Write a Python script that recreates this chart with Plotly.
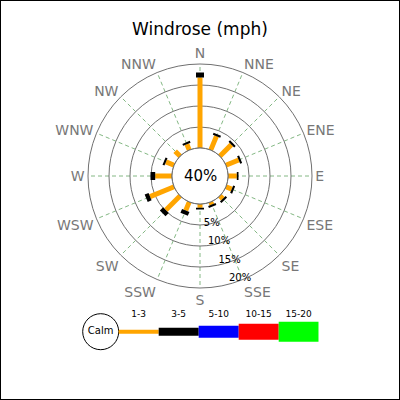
import plotly.graph_objects as go

# --- data ---
directions = ['N', 'NNE', 'NE', 'ENE', 'E', 'ESE', 'SE', 'SSE',
              'S', 'SSW', 'SW', 'WSW', 'W', 'WNW', 'NW', 'NNW']
angles = [i * 22.5 for i in range(16)]
calm_pct = 40

speed_bins = ['1-3', '3-5', '5-10', '10-15', '15-20']
bin_colors = ['orange', 'black', 'blue', 'red', 'lime']
bin_widths = [4, 8, 12, 16, 20]

pct_1_3 = [16.8, 3.6, 3.9, 3.3, 2.1, 1.5, 1.0, 0.7, 0.9, 2.2, 4.8, 6.2, 4.0, 2.1, 1.7, 1.5]
pct_3_5 = [1.2, 0.5, 0.5, 0.5, 0.4, 0.5, 0.5, 0.5, 0.4, 1.0, 1.1, 1.0, 1.1, 0.5, 0.0, 0.5]

radial_ticks = [0, 5, 10, 15, 20]
radial_labels = ['', '5%', '10%', '15%', '20%']

FONT = 'DejaVu Sans'
GRID = '#707070'

fig = go.Figure()

# stacked segments for each direction, drawn as thick radial lines
base = [0.0] * 16
for vals, color, w in [(pct_1_3, bin_colors[0], 5), (pct_3_5, bin_colors[1], 8)]:
    r, th = [], []
    for i in range(16):
        if vals[i] <= 0:
            continue
        r += [base[i], base[i] + vals[i], None]
        th += [angles[i], angles[i], None]
    fig.add_trace(go.Scatterpolar(r=r, theta=th, mode='lines',
                                  line=dict(color=color, width=w),
                                  showlegend=False, hoverinfo='skip'))
    base = [b + v for b, v in zip(base, vals)]

# polar area: centre (200,176), outer radius ~109 px
pr = 112
fig.update_layout(
    width=400, height=400,
    margin=dict(l=0, r=0, t=0, b=0),
    paper_bgcolor='white', plot_bgcolor='white',
    font=dict(family=FONT),
    showlegend=False,
    polar=dict(
        domain=dict(x=[(200 - pr) / 400, (200 + pr) / 400],
                    y=[1 - (176 + pr) / 400, 1 - (176 - pr) / 400]),
        hole=0.25,
        bgcolor='white',
        radialaxis=dict(range=[0, 20], tickvals=radial_ticks, ticktext=radial_labels,
                        showline=False, ticks='', angle=-60, tickangle=-60,
                        gridcolor=GRID, gridwidth=1,
                        tickfont=dict(size=10, color='black')),
        angularaxis=dict(direction='clockwise', rotation=90,
                         tickvals=angles, ticktext=directions, ticks='',
                         showline=True, linecolor=GRID, linewidth=1,
                         gridcolor='#84b884', griddash='4px,3px', gridwidth=1,
                         tickfont=dict(size=14, color='#777777')),
    ),
    xaxis=dict(domain=[78.7 / 400, 318.7 / 400], range=[-1, 5], visible=False),
    yaxis=dict(domain=[1 - 355 / 400, 1 - 300 / 400], range=[0, 55], visible=False),
)

# calm circle edge
fig.add_trace(go.Scatterpolar(r=[0] * 73, theta=[i * 5 for i in range(73)], mode='lines',
                              line=dict(color=GRID, width=1), hoverinfo='skip'))

fig.add_annotation(text=f'{calm_pct}%', x=0.5, y=1 - 176 / 400, xref='paper', yref='paper',
                   showarrow=False, font=dict(size=15, color='black'))
fig.add_annotation(text='Windrose (mph)', x=0.5, y=1 - 17 / 400, xref='paper', yref='paper',
                   showarrow=False, font=dict(size=17, color='black'))

# legend strip: calm circle + one segment per speed class (y axis in px from bottom)
LINE_Y = 355 - 331.7
LABEL_Y = 355 - 315
fig.add_trace(go.Scatter(x=[-0.45], y=[LINE_Y], mode='markers+text', text=['Calm'],
                         marker=dict(size=36, color='white', line=dict(color='black', width=1)),
                         textfont=dict(size=10, color='black'), cliponaxis=False,
                         hoverinfo='skip'))
for i, (lab, color, w) in enumerate(zip(speed_bins, bin_colors, bin_widths)):
    fig.add_trace(go.Scatter(x=[i, i + 1], y=[LINE_Y, LINE_Y], mode='lines',
                             line=dict(color=color, width=w), cliponaxis=False,
                             hoverinfo='skip'))
    fig.add_trace(go.Scatter(x=[i + 0.5], y=[LABEL_Y], mode='text', text=[lab],
                             textfont=dict(size=9, color='black'), cliponaxis=False,
                             hoverinfo='skip'))

fig.add_shape(type='rect', xref='paper', yref='paper', x0=0, x1=1, y0=0, y1=1,
              line=dict(color='black', width=2))

fig.write_html("out.html", config={'displayModeBar': False},
               post_script="document.body.style.margin='0';")
